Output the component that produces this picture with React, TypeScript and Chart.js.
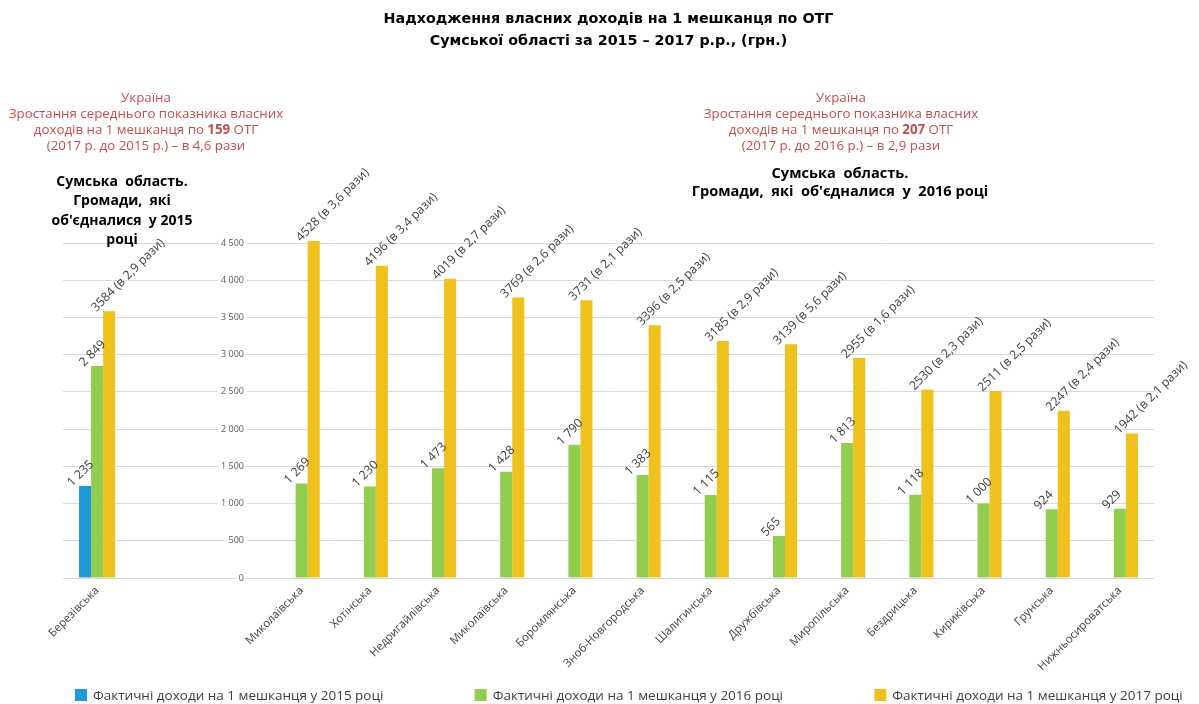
import React, { useEffect, useRef } from 'react';
import { Chart, registerables } from 'chart.js';

Chart.register(...registerables);

// Categories (two empty slots separate the 2015 group from the 2016 group and hold the value axis)
const communities = [
  'Березівська', '', '',
  'Миколаївська', 'Хотінська', 'Недригайлівська', 'Миколаївська', 'Боромлянська',
  'Зноб-Новгородська', 'Шалигинська', 'Дружбівська', 'Миропільська', 'Бездрицька',
  'Кириківська', 'Грунська', 'Нижньосироватська',
];

const income2015: (number | null)[] = [1235, null, null, null, null, null, null, null, null, null, null, null, null, null, null, null];
const income2016: (number | null)[] = [2849, null, null, 1269, 1230, 1473, 1428, 1790, 1383, 1115, 565, 1813, 1118, 1000, 924, 929];
const income2017: (number | null)[] = [3584, null, null, 4528, 4196, 4019, 3769, 3731, 3396, 3185, 3139, 2955, 2530, 2511, 2247, 1942];
const growthTimes: (string | null)[] = ['2,9', null, null, '3,6', '3,4', '2,7', '2,6', '2,1', '2,5', '2,9', '5,6', '1,6', '2,3', '2,5', '2,4', '2,1'];

const seriesLabels = [
  'Фактичні доходи на 1 мешканця у 2015 році',
  'Фактичні доходи на 1 мешканця у 2016 році',
  'Фактичні доходи на 1 мешканця у 2017 році',
];
const seriesColors = ['#1F9BD7', '#92CD50', '#EFC11D'];

const titleLines = [
  'Надходження власних доходів на 1 мешканця по ОТГ',
  'Сумської області за 2015 – 2017 р.р., (грн.)',
];

const Y_MIN = 0;
const Y_MAX = 4500;
const Y_STEP = 500;

function fmtThousands(n: number): string {
  if (n < 1000) return String(n);
  const th = Math.floor(n / 1000);
  const rest = String(n % 1000).padStart(3, '0');
  return `${th} ${rest}`;
}

const valueLabelPlugin = {
  id: 'valueLabels',
  afterDatasetsDraw(chart: any) {
    const ctx = chart.ctx;
    ctx.save();
    ctx.font = '12.3px "Open Sans"';
    ctx.fillStyle = '#404040';
    ctx.textAlign = 'left';
    ctx.textBaseline = 'alphabetic';
    chart.data.datasets.forEach((ds: any, di: number) => {
      const meta = chart.getDatasetMeta(di);
      meta.data.forEach((bar: any, i: number) => {
        const v = ds.data[i];
        if (v == null) return;
        const text = di === 2 ? `${v} (в ${growthTimes[i]} рази)` : fmtThousands(v);
        ctx.save();
        ctx.translate(bar.x - 13, bar.y + 1);
        ctx.rotate(-Math.PI / 4);
        ctx.fillText(text, 0, 0);
        ctx.restore();
      });
    });
    ctx.restore();
  },
};

const spreadLegendPlugin = {
  id: 'spreadLegend',
  afterDraw(chart: any) {
    const ctx = chart.ctx;
    const ds = chart.data.datasets;
    const slot = chart.width / ds.length;
    ctx.save();
    ctx.font = '13.5px "Open Sans"';
    ctx.textAlign = 'left';
    ctx.textBaseline = 'middle';
    ds.forEach((d: any, i: number) => {
      const x = 75 + i * slot;
      const y = 695;
      ctx.fillStyle = d.backgroundColor;
      ctx.fillRect(x, y - 6, 12, 12);
      ctx.fillStyle = '#404040';
      ctx.fillText(d.label, x + 18, y + 1);
    });
    ctx.restore();
  },
};

export default function App() {
  const canvasRef = useRef<HTMLCanvasElement>(null);

  useEffect(() => {
    document.body.style.margin = '0';
    const canvas = canvasRef.current;
    if (!canvas) return;
    const chart = new Chart(canvas, {
      type: 'bar',
      data: {
        labels: communities,
        datasets: [
          { label: seriesLabels[0], data: income2015, backgroundColor: seriesColors[0], borderWidth: 0, clip: false } as any,
          { label: seriesLabels[1], data: income2016, backgroundColor: seriesColors[1], borderWidth: 0, clip: false } as any,
          { label: seriesLabels[2], data: income2017, backgroundColor: seriesColors[2], borderWidth: 0, clip: false } as any,
        ],
      },
      options: {
        responsive: false,
        animation: false,
        devicePixelRatio: 1,
        layout: { padding: { left: 63, right: 45, top: 0, bottom: 26 } },
        datasets: { bar: { categoryPercentage: 0.53, barPercentage: 1 } },
        plugins: {
          legend: { display: false },
          tooltip: { enabled: false },
          title: {
            display: true,
            text: titleLines,
            color: '#000000',
            font: { family: '"DejaVu Sans"', weight: 'bold', size: 14.3, lineHeight: 22 / 14.3 },
            padding: { top: 8, bottom: 191 },
          },
        },
        scales: {
          x: {
            type: 'category',
            offset: true,
            grid: { display: false, drawTicks: false },
            border: { display: false },
            afterFit: (scale: any) => { scale.height = 100; },
            ticks: {
              autoSkip: false,
              maxRotation: 45,
              minRotation: 45,
              padding: 6,
              color: '#404040',
              font: { family: '"Open Sans"', size: 11.3 },
            },
          },
          y: {
            type: 'linear',
            position: { x: 2.154 } as any,
            min: Y_MIN,
            max: Y_MAX,
            grid: { color: '#D9D9D9', lineWidth: 1, drawTicks: false },
            border: { display: false },
            ticks: {
              stepSize: Y_STEP,
              padding: 0,
              color: '#595959',
              font: { family: '"Open Sans"', size: 9 },
              showLabelBackdrop: true,
              backdropColor: '#FFFFFF',
              backdropPadding: { left: 3, right: 3, top: 0, bottom: 0 },
              callback: (v: any) => fmtThousands(Number(v)),
            } as any,
          },
        },
      },
      plugins: [valueLabelPlugin, spreadLegendPlugin],
    });
    return () => chart.destroy();
  }, []);

  const red = '#C0504D';
  const redBlock: React.CSSProperties = {
    position: 'absolute', top: 89, color: red, fontFamily: '"Open Sans", sans-serif',
    fontSize: 13.3, lineHeight: '16px', textAlign: 'center', whiteSpace: 'pre',
  };
  const blackBlock: React.CSSProperties = {
    position: 'absolute', color: '#000', fontFamily: '"Open Sans", sans-serif', fontWeight: 700,
    fontSize: 14, textAlign: 'center', whiteSpace: 'pre',
  };

  return (
    <div style={{ position: 'relative', width: 1199, height: 704, background: '#fff', overflow: 'hidden' }}>
      <canvas ref={canvasRef} width={1199} height={704} style={{ position: 'absolute', left: 0, top: 0 }} />
      <div style={{ ...redBlock, left: 0, width: 292 }}>
        <div>Україна</div>
        <div>Зростання середнього показника власних</div>
        <div>доходів на 1 мешканця по <b>159</b> ОТГ</div>
        <div>(2017 р. до 2015 р.) – в 4,6 рази</div>
      </div>
      <div style={{ ...redBlock, left: 641, width: 400 }}>
        <div>Україна</div>
        <div>Зростання середнього показника власних</div>
        <div>доходів на 1 мешканця по <b>207</b> ОТГ</div>
        <div>(2017 р. до 2016 р.) – в 2,9 рази</div>
      </div>
      <div style={{ ...blackBlock, left: 22, width: 200, top: 171, lineHeight: '19.3px' }}>
        <div>Сумська  область.</div>
        <div>Громади,  які</div>
        <div>об'єдналися  у 2015</div>
        <div>році</div>
      </div>
      <div style={{ ...blackBlock, fontSize: 14.6, left: 640, width: 400, top: 163, lineHeight: '18px' }}>
        <div>Сумська  область.</div>
        <div>Громади,  які  об'єдналися  у  2016 році</div>
      </div>
    </div>
  );
}
